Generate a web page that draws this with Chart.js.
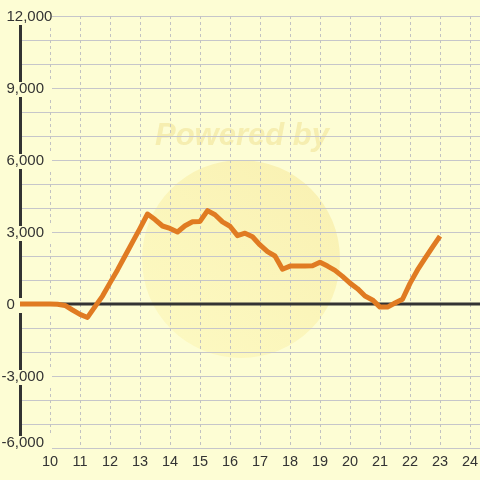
<!DOCTYPE html>
<html><head><meta charset="utf-8">
<script src="https://cdn.jsdelivr.net/npm/chart.js@4/dist/chart.umd.min.js"></script>
<style>html,body{margin:0;padding:0;background:#fdfdd4;}</style>
</head><body>
<canvas id="c" width="480" height="480"></canvas>
<script>
// ---- data ----
const hours = [9,9.25,9.5,9.75,10,10.25,10.5,10.75,11,11.25,11.5,11.75,12,12.25,12.5,12.75,13,13.25,13.5,13.75,14,14.25,14.5,14.75,15,15.25,15.5,15.75,16,16.25,16.5,16.75,17,17.25,17.5,17.75,18,18.25,18.5,18.75,19,19.25,19.5,19.75,20,20.25,20.5,20.75,21,21.25,21.5,21.75,22,22.25,22.5,22.75,23];
const values = [0,0,0,0,0,-10,-60,-250,-430,-560,-110,330,880,1420,2000,2580,3150,3750,3520,3250,3150,3000,3260,3430,3440,3890,3720,3420,3240,2850,2950,2800,2460,2180,2000,1450,1580,1580,1580,1590,1740,1580,1400,1150,870,640,330,170,-130,-130,40,200,860,1420,1900,2370,2830];
const xTickLabels = [10,11,12,13,14,15,16,17,18,19,20,21,22,23,24];
const yTickLabels = [12000,9000,6000,3000,0,-3000,-6000];
const yGridValues = [12000,11000,10000,9000,8000,7000,6000,5000,4000,3000,2000,1000,-1000,-2000,-3000,-4000,-5000,-6000];

const BG = '#fdfdd4';
const FONT = '"Liberation Sans", Arial, sans-serif';

const axesPlugin = {
  id: 'axesDraw',
  beforeDraw(chart) {
    const ctx = chart.ctx;
    ctx.save();
    ctx.fillStyle = BG;
    ctx.fillRect(0, 0, chart.width, chart.height);
    ctx.restore();
  },
  beforeDatasetsDraw(chart) {
    const {ctx, chartArea: a, scales: {x, y}} = chart;
    ctx.save();
    // watermark
    const g = ctx.createLinearGradient(320, 170, 160, 350);
    g.addColorStop(0, 'rgba(240,212,100,0.30)');
    g.addColorStop(1, 'rgba(250,232,120,0.20)');
    ctx.beginPath(); ctx.arc(241, 259, 99, 0, Math.PI * 2);
    ctx.fillStyle = g; ctx.fill();
    ctx.font = 'italic bold 31px ' + FONT;
    ctx.fillStyle = 'rgba(232,210,110,0.35)';
    ctx.textAlign = 'center'; ctx.textBaseline = 'alphabetic';
    ctx.fillText('Powered by', 242, 145);

    // horizontal grid
    ctx.strokeStyle = '#c6c6ca'; ctx.lineWidth = 1;
    for (const v of yGridValues) {
      const py = Math.round(y.getPixelForValue(v)) + 0.5;
      ctx.beginPath(); ctx.moveTo(a.left, py); ctx.lineTo(a.right, py); ctx.stroke();
    }
    // vertical dashed grid
    ctx.setLineDash([3, 3]);
    ctx.strokeStyle = '#c2c2c2';
    for (const t of xTickLabels) {
      const px = Math.round(x.getPixelForValue(t)) + 0.5;
      ctx.beginPath(); ctx.moveTo(px, a.top); ctx.lineTo(px, a.bottom); ctx.stroke();
    }
    ctx.setLineDash([]);
    // left axis
    ctx.strokeStyle = '#333'; ctx.lineWidth = 3;
    ctx.beginPath(); ctx.moveTo(a.left + 0.5, a.top); ctx.lineTo(a.left + 0.5, a.bottom); ctx.stroke();
    // zero line
    const zy = y.getPixelForValue(0);
    ctx.beginPath(); ctx.moveTo(a.left, zy); ctx.lineTo(a.right, zy); ctx.stroke();

    // y labels with backdrop (bottom label kept above the plot's lower edge)
    ctx.font = '15px ' + FONT;
    ctx.textAlign = 'left'; ctx.textBaseline = 'middle';
    const minusW = ctx.measureText('-').width;
    for (const v of yTickLabels) {
      const py = Math.min(y.getPixelForValue(v), a.bottom - 6);
      ctx.fillStyle = BG;
      ctx.fillRect(0, py - 6, 52, v === yTickLabels[yTickLabels.length - 1] ? 20 : 15);
      ctx.fillStyle = '#333';
      const txt = v.toLocaleString('en-US');
      ctx.fillText(txt, v < 0 ? 6.5 - minusW : 6.5, py + 1);
    }
    // x labels
    ctx.font = '14.5px ' + FONT;
    ctx.textAlign = 'center';
    for (const t of xTickLabels) {
      ctx.fillText(String(t), x.getPixelForValue(t), a.bottom + 14);
    }
    ctx.restore();
  }
};

new Chart(document.getElementById('c'), {
  type: 'line',
  data: {
    datasets: [{
      data: hours.map((h, i) => ({x: h, y: values[i]})),
      borderColor: '#e07b22',
      borderWidth: 5,
      pointRadius: 0,
      tension: 0,
      fill: false,
      borderJoinStyle: 'round',
      borderCapStyle: 'butt'
    }]
  },
  options: {
    responsive: false,
    animation: false,
    devicePixelRatio: 1,
    layout: {padding: {left: 20, top: 16, right: 0, bottom: 32}},
    scales: {
      x: {type: 'linear', min: 9, max: 24 + 1/3, display: false},
      y: {type: 'linear', min: -6000, max: 12000, display: false}
    },
    plugins: {legend: {display: false}, tooltip: {enabled: false}}
  },
  plugins: [axesPlugin]
});
</script>
</body></html>
